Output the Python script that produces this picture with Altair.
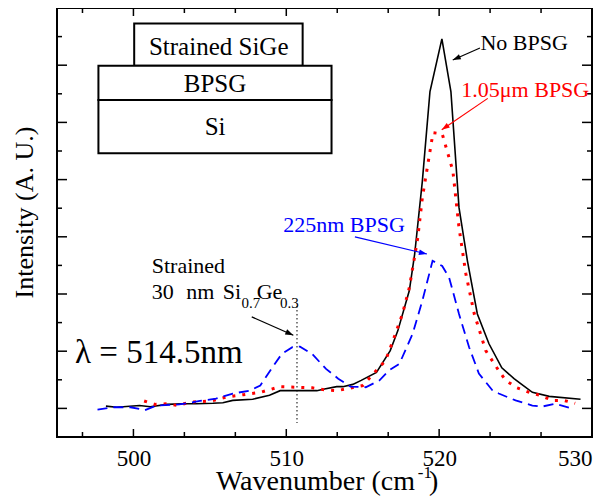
import altair as alt
import pandas as pd

# ---------------- data ----------------
black_x = [498.2, 498.9, 500.4, 501.1, 502.2, 503.2, 504.1, 505.2, 505.85, 506.5, 507.8, 508.9,
           509.6, 510.9, 512.0, 512.5, 513.3, 513.7, 514.35, 514.9, 515.9, 516.8, 517.3, 518.05,
           518.4, 518.9, 519.4, 520.18, 520.77, 521.3, 521.85, 522.5, 523.26, 524.1, 524.9,
           525.4, 526.1, 527.2, 529.25]
black_y = [0.04, 0.02, 0.05, 0.03, 0.07, 0.08, 0.08, 0.09, 0.10, 0.14, 0.16, 0.23,
           0.31, 0.31, 0.31, 0.34, 0.38, 0.38, 0.42, 0.49, 0.63, 1.01, 1.36, 2.06,
           2.70, 3.97, 5.54, 6.46, 5.54, 3.51, 2.58, 1.65, 1.13, 0.71, 0.52,
           0.42, 0.28, 0.21, 0.16]

red_x = [500.7, 501.4, 502.2, 502.9, 503.7, 505.1, 506.1, 507.2, 508.3, 509.6, 510.65, 511.7,
         512.6, 513.3, 513.9, 515.0, 516.5, 517.0, 517.6, 518.05, 518.6, 518.9, 519.6, 520.2,
         520.9, 521.3, 521.75, 522.3, 523.05, 523.9, 524.35, 525.1, 525.9, 526.6, 527.4,
         528.15, 528.9]
red_y = [0.13, 0.07, 0.08, 0.05, 0.11, 0.13, 0.20, 0.24, 0.28, 0.38, 0.37, 0.36,
         0.32, 0.31, 0.34, 0.40, 0.84, 1.20, 1.65, 2.11, 2.98, 3.68, 4.82, 4.80,
         4.15, 3.16, 2.35, 1.65, 1.01, 0.66, 0.49, 0.36, 0.28, 0.23, 0.14,
         0.14, 0.09]

blue_x = [497.65, 498.7, 499.8, 500.76, 501.5, 503.0, 504.35, 505.4, 506.5, 507.6, 508.3, 509.1,
          509.7, 510.4, 510.9, 511.7, 512.6, 513.4, 514.2, 515.2, 516.1, 516.7, 517.4, 518.26,
          518.9, 519.57, 520.2, 520.65, 521.3, 521.96, 522.6, 523.5, 523.9, 525.0, 526.1,
          526.7, 527.6, 528.7]
blue_y = [-0.02, 0.02, 0.02, -0.03, 0.05, 0.07, 0.13, 0.17, 0.26, 0.31, 0.40, 0.72,
          0.95, 1.07, 1.08, 0.95, 0.69, 0.52, 0.38, 0.37, 0.49, 0.66, 0.78, 1.30,
          1.88, 2.58, 2.49, 2.29, 1.65, 1.07, 0.61, 0.31, 0.26, 0.14, 0.05,
          0.03, 0.08, 0.00]

x_major = [500, 510, 520, 530]
x_minor = [496.667, 503.333, 506.667, 513.333, 516.667, 523.333, 526.667]
y_major = [0, 1, 2, 3, 4, 5, 6]
y_minor = [0.5, 1.5, 2.5, 3.5, 4.5, 5.5, 6.5]

x_title = "Wavenumber (cm"
y_title = "Intensity (A. U.)"

# annotation anchors in data units (wavenumber, intensity)
ann_text = ["No BPSG", "1.05\u03bcm BPSG", "225nm BPSG"]
ann_x = [522.7, 521.45, 509.8]
ann_y = [6.27, 5.45, 3.08]
ann_color = ["black", "red", "blue"]

arrow_x1 = [522.67, 523.18, 514.49, 507.74]
arrow_y1 = [6.30, 5.42, 3.00, 1.60]
arrow_x2 = [520.89, 520.17, 519.20, 510.46]
arrow_y2 = [6.09, 4.87, 2.70, 1.28]
arrow_ang = [246, 235, 103, 114]
arrow_col = ["black", "red", "blue", "black"]

sige_pieces = ["Strained", "30", "nm", "Si", "0.7", "Ge", "0.3"]
sige_x = [501.2, 501.2, 503.45, 505.85, 507.07, 508.06, 509.59]
sige_y = [2.37, 1.92, 1.92, 1.92, 1.755, 1.92, 1.755]
sige_size = [22, 22, 22, 22, 15, 22, 15]

box_x1 = [500.05, 497.71, 497.71]
box_x2 = [511.07, 512.96, 512.96]
box_y1 = [6.73, 5.99, 5.39]
box_y2 = [5.99, 5.39, 4.46]
box_text = ["Strained SiGe", "BPSG", "Si"]
box_tx = [505.58, 505.34, 505.34]
box_ty = [6.18, 5.54, 4.78]

marker_x = [510.7, 510.7]
marker_y = [1.79, -0.255]

# ---------------- chart ----------------
W, H = 535, 429
FONT = "Liberation Serif"
xs = alt.Scale(domain=[495, 530], nice=False, zero=False)
ys = alt.Scale(domain=[-0.5, 7.0], nice=False, zero=False)

x_axis = alt.Axis(values=x_major, format="d", ticks=False, domain=False, grid=False,
                  labelFont=FONT, labelFontSize=23, labelColor="black", labelPadding=10,
                  title=None)
y_axis = alt.Axis(labels=False, ticks=False, domain=False, grid=False,
                  title=y_title, titleFont=FONT, titleFontSize=26, titleFontWeight="normal",
                  titleColor="black", titleX=-20, titleY=204, titleBaseline="bottom")


def xpos(f="x"):
    return alt.X(f + ":Q", scale=xs, axis=x_axis)


def ypos(f="y"):
    return alt.Y(f + ":Q", scale=ys, axis=y_axis)


def curve(xv, yv, **kw):
    df = pd.DataFrame({"x": xv, "y": yv, "i": range(len(xv))})
    return alt.Chart(df).mark_line(**kw).encode(x=xpos(), y=ypos(), order="i:Q")


black = curve(black_x, black_y, color="black", strokeWidth=1.6)
red = curve(red_x, red_y, color="#ff0000", strokeWidth=3, strokeDash=[3, 7])
blue = curve(blue_x, blue_y, color="#0000ff", strokeWidth=1.8, strokeDash=[10, 6])


# ticks (inward)
def yticks(vals, x0, x1):
    return alt.Chart(pd.DataFrame({"v": vals})).mark_rule(color="black", strokeWidth=1.5).encode(
        y=ypos("v"), x=alt.value(x0), x2=alt.value(x1))


def xticks(vals, y0, y1):
    return alt.Chart(pd.DataFrame({"v": vals})).mark_rule(color="black", strokeWidth=1.5).encode(
        x=xpos("v"), y=alt.value(y0), y2=alt.value(y1))


ticks = [
    yticks(y_major, 0, 10), yticks(y_minor, 0, 5),
    yticks(y_major, W, W - 10), yticks(y_minor, W, W - 5),
    xticks(x_major, H, H - 8), xticks(x_minor, H, H - 5),
    xticks(x_major, 0, 8), xticks(x_minor, 0, 5),
]

# vertical dotted marker
marker = alt.Chart(pd.DataFrame({"x": marker_x, "y": marker_y})).mark_line(
    color="black", strokeWidth=1, strokeDash=[1.5, 2.5]).encode(x=xpos(), y=ypos())

# arrows
arr_df = pd.DataFrame({"x": arrow_x1, "y": arrow_y1, "x2": arrow_x2, "y2": arrow_y2,
                       "a": arrow_ang, "c": arrow_col})
arrow_lines = alt.Chart(arr_df).mark_rule(strokeWidth=1.2).encode(
    x=xpos(), y=ypos(), x2="x2:Q", y2="y2:Q", color=alt.Color("c:N", scale=None))
arrow_heads = alt.Chart(arr_df).mark_point(
    shape="M0,0L-0.7,2L0.7,2Z", filled=True, size=64, opacity=1).encode(
    x=xpos("x2"), y=ypos("y2"), angle=alt.Angle("a:Q", scale=None),
    color=alt.Color("c:N", scale=None))

# curve labels
lab_df = pd.DataFrame({"x": ann_x, "y": ann_y, "t": ann_text, "c": ann_color})
labels = alt.Chart(lab_df).mark_text(font=FONT, fontSize=22, align="left",
                                      baseline="alphabetic").encode(
    x=xpos(), y=ypos(), text="t:N", color=alt.Color("c:N", scale=None))

# SiGe label pieces
sg_df = pd.DataFrame({"x": sige_x, "y": sige_y, "t": sige_pieces, "s": sige_size})
sige = alt.Chart(sg_df).mark_text(font=FONT, align="left", baseline="alphabetic",
                                   color="black").encode(
    x=xpos(), y=ypos(), text="t:N", size=alt.Size("s:Q", scale=None))

# lambda label
lam = alt.Chart(pd.DataFrame({"x": [496.18], "y": [0.79], "t": ["\u03bb = 514.5nm"]})).mark_text(
    font=FONT, fontSize=33, align="left", baseline="alphabetic", color="black").encode(
    x=xpos(), y=ypos(), text="t:N")

# inset layer boxes
bx_df = pd.DataFrame({"x": box_x1, "x2": box_x2, "y": box_y1, "y2": box_y2})
boxes = alt.Chart(bx_df).mark_rect(fill="white", stroke="black", strokeWidth=2).encode(
    x=xpos(), x2="x2:Q", y=ypos(), y2="y2:Q")
bt_df = pd.DataFrame({"x": box_tx, "y": box_ty, "t": box_text})
box_labels = alt.Chart(bt_df).mark_text(font=FONT, fontSize=25, align="center",
                                         baseline="alphabetic", color="black").encode(
    x=xpos(), y=ypos(), text="t:N")

# x-axis title with superscript
xt_df = pd.DataFrame({"x": [518.42, 518.6, 519.34], "y": [-1.43, -1.22, -1.43],
                      "t": [x_title, "-1", ")"], "s": [28, 17, 28]})
xt_main = alt.Chart(xt_df.iloc[[0]]).mark_text(font=FONT, fontSize=28, align="right",
                                              baseline="alphabetic", color="black").encode(
    x=xpos(), y=ypos(), text="t:N")
xt_rest = alt.Chart(xt_df.iloc[[1, 2]]).mark_text(font=FONT, align="left",
                                                 baseline="alphabetic", color="black").encode(
    x=xpos(), y=ypos(), text="t:N", size=alt.Size("s:Q", scale=None))

chart = alt.layer(
    black, red, blue, *ticks, marker, boxes, box_labels, arrow_lines, arrow_heads,
    labels, sige, lam, xt_main, xt_rest,
).properties(
    width=W, height=H,
    autosize=alt.AutoSizeParams(type="none"),
    padding={"left": 49, "top": 0, "right": 9, "bottom": 59},
    background="white",
).configure_view(stroke="black", strokeWidth=2)

chart.save("out.html", embed_options={"renderer": "svg", "actions": False})
